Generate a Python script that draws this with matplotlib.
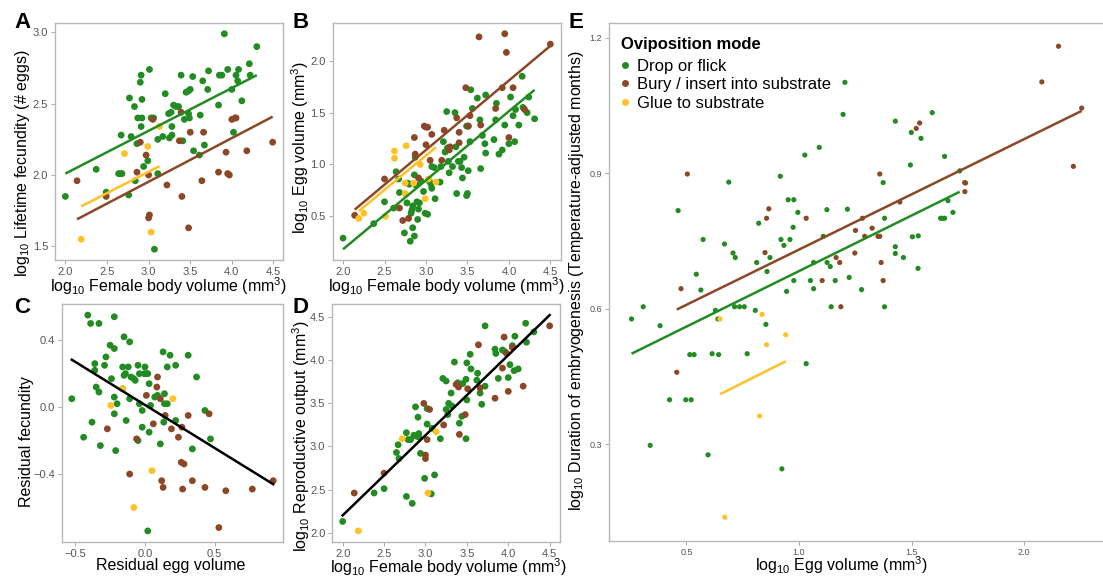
import numpy as np
import matplotlib
matplotlib.use("Agg")
import matplotlib.pyplot as plt
from matplotlib.lines import Line2D

plt.rcParams["font.family"] = ["Liberation Sans", "DejaVu Sans"]
plt.rcParams["mathtext.fontset"] = "custom"
plt.rcParams["mathtext.rm"] = "Liberation Sans"

modes = ["Drop or flick", "Bury / insert into substrate", "Glue to substrate"]
colors = ["#228B22", "#8B4726", "#FFC125"]

# --- A: body volume vs lifetime fecundity ---
A_drop_x = [2.0, 2.37, 2.49, 2.64, 2.66, 2.68, 2.67, 2.76, 2.77, 2.79, 2.83, 2.84, 2.86, 2.87,
            2.90, 2.91, 2.91, 2.92, 2.92, 2.94, 2.99, 3.01, 3.03, 3.06, 3.07, 3.11, 3.11, 3.17,
            3.20, 3.24, 3.25, 3.27, 3.28, 3.28, 3.30, 3.33, 3.36, 3.39, 3.41, 3.43, 3.45, 3.48,
            3.48, 3.50, 3.49, 3.53, 3.54, 3.61, 3.62, 3.65, 3.67, 3.71, 3.72, 3.84, 3.85, 3.88,
            3.91, 3.95, 4.00, 4.02, 4.05, 4.07, 4.08, 4.12, 4.21, 4.22, 4.30]
A_drop_y = [1.85, 2.04, 1.88, 2.01, 2.01, 2.01, 2.28, 1.86, 2.54, 2.27, 2.48, 1.96, 2.22, 2.40,
            2.65, 2.70, 2.34, 2.53, 2.40, 2.06, 2.10, 2.74, 2.40, 2.40, 1.48, 2.01, 2.25, 2.27,
            2.57, 2.43, 2.26, 2.44, 2.28, 2.34, 2.49, 2.48, 2.48, 2.70, 2.24, 2.39, 2.58, 2.43,
            2.59, 2.60, 2.40, 2.69, 2.17, 2.14, 2.42, 2.66, 2.21, 2.60, 2.73, 2.49, 2.70, 2.70,
            2.99, 2.74, 2.60, 2.30, 2.70, 2.66, 2.74, 2.52, 2.78, 2.70, 2.90]
A_bury_x = [2.14, 2.49, 2.86, 2.90, 2.97, 3.00, 3.00, 3.01, 3.05, 3.22, 3.37, 3.39, 3.40, 3.48,
            3.50, 3.64, 3.66, 3.84, 3.93, 3.95, 3.97, 4.00, 4.04, 4.05, 4.18, 4.49]
A_bury_y = [1.96, 1.85, 2.02, 2.23, 2.14, 2.00, 1.70, 1.72, 2.39, 1.93, 2.24, 2.44, 1.85, 1.63,
            2.30, 1.96, 2.30, 2.02, 2.16, 2.01, 2.00, 2.39, 2.40, 2.40, 2.17, 2.23]
A_glue_x = [2.19, 2.71, 2.99, 3.03, 3.13]
A_glue_y = [1.55, 2.15, 2.20, 1.60, 2.34]
A_fit_intercept = [1.41, 1.035, 1.123]
A_fit_slope = [0.300, 0.306, 0.300]

# --- B: body volume vs egg volume ---
B_drop_x = [2.0, 2.37, 2.50, 2.61, 2.64, 2.68, 2.67, 2.74, 2.77, 2.78, 2.80, 2.81, 2.82, 2.83,
            2.84, 2.84, 2.86, 2.86, 2.87, 2.88, 2.89, 2.91, 2.90, 2.92, 2.94, 2.97, 2.99, 3.02,
            3.04, 3.06, 3.07, 3.10, 3.07, 3.11, 3.17, 3.18, 3.21, 3.23, 3.25, 3.26, 3.27, 3.28,
            3.32, 3.35, 3.36, 3.37, 3.39, 3.41, 3.43, 3.44, 3.46, 3.49, 3.51, 3.49, 3.50, 3.51,
            3.53, 3.54, 3.56, 3.62, 3.65, 3.66, 3.68, 3.71, 3.72, 3.72, 3.82, 3.84, 3.85, 3.88,
            3.92, 3.95, 4.00, 4.02, 4.05, 4.07, 4.08, 4.12, 4.16, 4.17, 4.22, 4.24, 4.31]
B_drop_y = [0.29, 0.43, 0.64, 0.58, 0.93, 0.73, 0.86, 0.34, 0.63, 0.82, 0.81, 0.26, 0.53, 0.56,
            0.60, 0.39, 0.31, 0.90, 1.07, 0.80, 0.64, 0.57, 0.47, 0.63, 0.84, 0.74, 0.53, 0.52,
            0.84, 0.81, 0.98, 0.97, 0.77, 0.67, 0.83, 0.98, 1.22, 1.12, 1.51, 1.16, 1.03, 0.92,
            0.98, 1.50, 1.17, 0.72, 1.03, 1.03, 0.97, 0.87, 1.07, 1.37, 1.37, 0.70, 0.72, 0.94,
            1.22, 1.72, 1.54, 1.64, 1.43, 0.96, 1.28, 1.20, 1.11, 1.67, 1.24, 1.43, 1.59, 1.10,
            1.14, 1.38, 1.20, 1.65, 1.47, 1.22, 1.53, 1.38, 1.85, 1.55, 1.50, 1.65, 1.44]
B_bury_x = [2.14, 2.50, 2.68, 2.72, 2.79, 2.86, 2.87, 2.91, 2.98, 3.00, 3.02, 3.00, 3.05, 3.07,
            3.19, 3.22, 3.29, 3.28, 3.37, 3.40, 3.40, 3.48, 3.51, 3.53, 3.64, 3.66, 3.84, 3.92,
            3.95, 3.97, 4.00, 4.05, 4.19, 4.50]
B_bury_y = [0.51, 0.86, 0.58, 0.46, 0.48, 1.26, 1.10, 0.87, 1.37, 1.36, 1.36, 1.19, 1.04, 1.29,
            1.04, 1.33, 1.17, 1.14, 1.45, 1.21, 1.31, 1.74, 1.37, 1.47, 2.23, 1.38, 1.54, 1.74,
            2.26, 2.08, 1.26, 1.74, 1.53, 2.16]
B_glue_x = [2.19, 2.25, 2.51, 2.62, 2.62, 2.76, 2.75, 2.75, 2.93, 2.85, 2.99, 3.03, 3.12]
B_glue_y = [0.48, 0.53, 0.50, 1.13, 1.06, 1.18, 0.72, 0.82, 1.00, 0.82, 0.67, 0.86, 0.83]
B_fit_intercept = [-1.147, -0.867, -0.902]
B_fit_slope = [0.665, 0.669, 0.663]

# --- C: residual egg volume vs residual fecundity ---
C_drop_x = [-0.525, -0.44, -0.41, -0.39, -0.33, -0.38, -0.36, -0.36, -0.35, -0.33, -0.32, -0.29,
            -0.28, -0.25, -0.24, -0.22, -0.22, -0.22, -0.22, -0.21, -0.20, -0.16, -0.16, -0.15,
            -0.15, -0.14, -0.135, -0.12, -0.11, -0.11, -0.10, -0.08, -0.07, -0.05, -0.05, -0.04,
            -0.04, -0.02, -0.02, -0.005, 0.01, 0.0, 0.02, 0.03, 0.03, 0.02, 0.04, 0.07, 0.09,
            0.11, 0.13, 0.14, 0.135, 0.14, 0.16, 0.16, 0.18, 0.22, 0.22, 0.31, 0.34, 0.37, 0.43,
            0.47]
C_drop_y = [0.05, -0.18, 0.55, 0.50, 0.50, -0.09, 0.26, 0.22, 0.12, 0.09, -0.23, 0.25, 0.30,
            0.37, 0.17, 0.54, 0.35, 0.06, -0.04, -0.26, 0.02, 0.24, 0.11, 0.42, 0.19, 0.20,
            -0.08, 0.24, 0.39, 0.05, 0.18, 0.17, 0.16, 0.25, -0.20, 0.20, 0.02, -0.02, -0.12,
            0.20, 0.20, 0.24, 0.20, 0.14, -0.15, -0.74, 0.01, 0.06, 0.07, -0.22, 0.33, 0.08,
            -0.09, 0.02, 0.24, 0.02, 0.31, 0.25, -0.08, 0.31, -0.25, 0.18, -0.02, -0.19]
C_bury_x = [-0.27, -0.11, -0.06, 0.01, 0.06, 0.085, 0.09, 0.11, 0.12, 0.13, 0.145, 0.19, 0.24,
            0.265, 0.26, 0.28, 0.27, 0.31, 0.34, 0.43, 0.46, 0.53, 0.58, 0.77, 0.92]
C_bury_y = [-0.13, -0.40, -0.19, 0.07, -0.10, 0.12, 0.18, 0.05, -0.44, -0.48, -0.05, -0.13,
            -0.18, -0.12, -0.33, -0.34, -0.49, -0.05, -0.44, -0.48, -0.04, -0.72, -0.50, -0.49,
            -0.44]
C_glue_x = [-0.245, -0.16, -0.08, 0.05, 0.20]
C_glue_y = [0.01, 0.11, -0.60, -0.38, 0.05]
C_fit = [0.013, -0.515]

# --- D: body volume vs reproductive output ---
D_drop_x = [2.0, 2.38, 2.50, 2.65, 2.67, 2.68, 2.77, 2.77, 2.79, 2.82, 2.84, 2.86, 2.88, 2.89,
            2.92, 2.92, 2.91, 2.94, 2.99, 3.02, 3.02, 3.07, 3.08, 3.11, 3.18, 3.21, 3.25, 3.25,
            3.27, 3.28, 3.31, 3.32, 3.35, 3.39, 3.41, 3.44, 3.45, 3.49, 3.49, 3.50, 3.50, 3.54,
            3.55, 3.62, 3.63, 3.66, 3.68, 3.72, 3.72, 3.84, 3.85, 3.88, 3.93, 3.96, 4.02, 4.00,
            4.05, 4.07, 4.08, 4.12, 4.21, 4.22, 4.31]
D_drop_y = [2.13, 2.46, 2.51, 2.93, 3.02, 2.86, 3.16, 2.42, 3.08, 3.08, 2.34, 3.13, 3.46, 3.12,
            3.11, 3.15, 3.34, 2.92, 2.63, 3.26, 3.44, 2.45, 3.21, 2.67, 3.09, 3.79, 3.76, 3.43,
            3.37, 3.50, 3.62, 3.47, 3.98, 3.74, 3.27, 3.35, 3.73, 3.78, 3.09, 3.97, 3.54, 4.07,
            3.90, 3.77, 3.85, 3.62, 3.49, 3.70, 4.40, 4.13, 4.08, 3.79, 4.12, 4.10, 3.95, 3.80,
            4.17, 3.88, 4.28, 3.90, 4.43, 4.21, 4.33]
D_bury_x = [2.14, 2.50, 2.98, 3.00, 3.00, 3.02, 3.05, 3.22, 3.37, 3.40, 3.41, 3.48, 3.51, 3.64,
            3.66, 3.84, 3.93, 3.95, 3.98, 4.00, 4.05, 4.18, 4.50]
D_bury_y = [2.46, 2.69, 3.50, 2.90, 2.86, 3.08, 3.43, 3.25, 3.72, 3.69, 3.14, 3.37, 3.67, 4.18,
            3.68, 3.56, 3.91, 4.27, 4.08, 3.64, 4.15, 3.70, 4.40]
D_glue_x = [2.19, 2.72, 3.03, 3.13]
D_glue_y = [2.02, 3.09, 2.46, 3.17]
D_fit = [0.34, 0.93]

# --- E: egg volume vs duration of embryogenesis ---
E_drop_x = [0.463, 0.688, 0.574, 0.544, 0.564, 0.669, 0.707, 0.717, 0.812, 0.821, 0.858, 0.871,
            0.917, 0.920, 0.933, 0.945, 0.952, 0.960, 0.974, 0.977, 0.977, 0.995, 1.026, 1.051,
            1.065, 1.065, 1.090, 1.108, 1.124, 1.125, 1.139, 1.161, 1.196, 1.204, 1.215, 1.223,
            1.278, 1.374, 1.380, 1.428, 1.428, 1.428, 1.464, 1.495, 1.499, 1.504, 1.530, 1.529,
            1.542, 1.592, 1.629, 1.637, 1.647, 1.647, 1.662, 1.684, 1.714,
            0.256, 0.308, 0.339, 0.383, 0.425, 0.497, 0.521, 0.515, 0.534, 0.596, 0.614, 0.629,
            0.640, 0.643, 0.714, 0.736, 0.757, 0.770, 0.806, 0.853, 0.924, 1.032, 1.143, 1.380]
E_drop_y = [0.817, 0.880, 0.753, 0.676, 0.641, 0.743, 0.723, 0.713, 0.702, 0.789, 0.682, 0.713,
            0.893, 0.753, 0.740, 0.638, 0.841, 0.753, 0.780, 0.841, 0.662, 0.813, 0.940, 0.662,
            0.644, 0.702, 0.957, 0.760, 0.819, 0.702, 0.693, 0.662, 1.030, 1.101, 0.820, 0.669,
            0.642, 0.879, 0.800, 1.015, 0.737, 0.722, 0.713, 0.918, 0.990, 0.759, 0.761, 0.689,
            0.977, 1.034, 0.800, 0.800, 0.800, 0.937, 0.839, 0.813, 0.905,
            0.577, 0.604, 0.297, 0.562, 0.398, 0.398, 0.398, 0.498, 0.498, 0.276, 0.500, 0.596,
            0.577, 0.498, 0.604, 0.604, 0.604, 0.500, 0.596, 0.565, 0.245, 0.478, 0.604, 0.604]
E_bury_x = [0.476, 0.504, 0.849, 0.856, 0.866, 1.032, 1.103, 1.165, 1.181, 1.248, 1.251, 1.282,
            1.292, 1.325, 1.351, 1.359, 1.359, 1.365, 1.374, 1.448, 1.521, 1.536, 1.736, 1.740,
            1.737, 2.079, 2.153, 2.219, 2.256, 0.457, 1.186]
E_bury_y = [0.644, 0.898, 0.724, 0.800, 0.821, 0.800, 0.662, 0.713, 0.702, 0.723, 0.773, 0.800,
            0.760, 0.778, 0.760, 0.760, 0.898, 0.702, 0.662, 0.836, 0.999, 1.011, 0.879, 0.878,
            0.859, 1.102, 1.181, 0.915, 1.044, 0.459, 0.604]
E_glue_x = [0.649, 0.836, 0.941, 0.856, 0.825, 0.670]
E_glue_y = [0.577, 0.587, 0.542, 0.520, 0.362, 0.138]
E_fit_intercept = [0.437, 0.486, 0.248]
E_fit_slope = [0.246, 0.2446, 0.25]

W, H = 1103, 576
fig = plt.figure(figsize=(W / 100, H / 100), dpi=100)

LOG = r"$\mathregular{log_{10}}$"
MM3 = r"(mm$\mathregular{^3}$)"
body_label = LOG + " Female body volume " + MM3
LABEL_SIZE = 11.5


def px_axes(left, top, right, bottom):
    return fig.add_axes([left / W, 1 - bottom / H, (right - left) / W, (bottom - top) / H])


def style(ax, tick_size=8):
    for sp in ax.spines.values():
        sp.set_color("#b8b8b8")
        sp.set_linewidth(1.0)
    ax.tick_params(direction="out", length=3, width=0.6, color="#9a9a9a",
                   labelcolor="#555555", labelsize=tick_size, pad=2)
    ax.margins(0.05)


def labels(ax, xlabel, ylabel, xpos, ypos):
    # positions in axes fraction: x label top edge, y label right edge
    ax.set_xlabel(xlabel, fontsize=LABEL_SIZE)
    ax.set_ylabel(ylabel, fontsize=LABEL_SIZE)
    ax.xaxis.set_label_coords(*xpos)
    ax.yaxis.set_label_coords(*ypos)


def draw_groups(ax, xs, ys, size):
    for x, y, c in zip(xs, ys, colors):
        ax.scatter(x, y, s=size, color=c, edgecolors="none", zorder=2)


def draw_fits(ax, xs, intercepts, slopes):
    for x, b0, b1, c in zip(xs, intercepts, slopes, colors):
        xx = np.array([min(x), max(x)])
        ax.plot(xx, b0 + b1 * xx, color=c, lw=1.8, solid_capstyle="butt", zorder=3)


def letter(s, x, y):
    fig.text(x / W, 1 - y / H, s, fontsize=16, fontweight="bold", ha="left", va="top")


# A
axA = px_axes(55, 23, 283, 260)
draw_groups(axA, [A_drop_x, A_bury_x, A_glue_x], [A_drop_y, A_bury_y, A_glue_y], 24)
draw_fits(axA, [A_drop_x, A_bury_x, A_glue_x], A_fit_intercept, A_fit_slope)
style(axA)
axA.set_xticks([2.0, 2.5, 3.0, 3.5, 4.0, 4.5])
axA.set_yticks([1.5, 2.0, 2.5, 3.0])
labels(axA, body_label, LOG + " Lifetime fecundity (# eggs)", (0.5, -0.066), (-0.10, 0.41))
letter("A", 14, 12)

# B
axB = px_axes(332.7, 23, 560.7, 260)
draw_groups(axB, [B_drop_x, B_bury_x, B_glue_x], [B_drop_y, B_bury_y, B_glue_y], 24)
draw_fits(axB, [B_drop_x, B_bury_x, B_glue_x], B_fit_intercept, B_fit_slope)
style(axB)
axB.set_xticks([2.0, 2.5, 3.0, 3.5, 4.0, 4.5])
axB.set_yticks([0.5, 1.0, 1.5, 2.0])
labels(axB, body_label, LOG + " Egg volume " + MM3, (0.5, -0.066), (-0.095, 0.475))
letter("B", 293, 12)

# C
axC = px_axes(61.7, 304.3, 283.3, 541.7)
draw_groups(axC, [C_drop_x, C_bury_x, C_glue_x], [C_drop_y, C_bury_y, C_glue_y], 24)
c_all = C_drop_x + C_bury_x + C_glue_x
cx = np.array([min(c_all), max(c_all)])
axC.plot(cx, C_fit[0] + C_fit[1] * cx, color="black", lw=1.8, zorder=3)
style(axC)
axC.set_xticks([-0.5, 0.0, 0.5])
axC.set_yticks([-0.4, 0.0, 0.4])
labels(axC, "Residual egg volume", "Residual fecundity", (0.49, -0.068), (-0.127, 0.422))
letter("C", 14, 297)

# D
axD = px_axes(332.3, 304.3, 560, 541.7)
draw_groups(axD, [D_drop_x, D_bury_x, D_glue_x], [D_drop_y, D_bury_y, D_glue_y], 24)
d_all = D_drop_x + D_bury_x + D_glue_x
dx = np.array([min(d_all), max(d_all)])
axD.plot(dx, D_fit[0] + D_fit[1] * dx, color="black", lw=1.8, zorder=3)
style(axD)
axD.set_xticks([2.0, 2.5, 3.0, 3.5, 4.0, 4.5])
axD.set_yticks([2.0, 2.5, 3.0, 3.5, 4.0, 4.5])
labels(axD, body_label, LOG + " Reproductive output " + MM3, (0.51, -0.060), (-0.087, 0.445))
letter("D", 293, 297)

# E
axE = px_axes(609, 22.7, 1104.2, 540.7)
draw_groups(axE, [E_drop_x, E_bury_x, E_glue_x], [E_drop_y, E_bury_y, E_glue_y], 14)
draw_fits(axE, [E_drop_x, E_bury_x, E_glue_x], E_fit_intercept, E_fit_slope)
style(axE, tick_size=6.5)
axE.set_xticks([0.5, 1.0, 1.5, 2.0])
axE.set_yticks([0.3, 0.6, 0.9, 1.2])
labels(axE, LOG + " Egg volume " + MM3,
       LOG + " Duration of embryogenesis (Temperature-adjusted months)",
       (0.47, -0.0265), (-0.046, 0.502))
letter("E", 569, 12)

# legend: bold title plus one row per oviposition mode
fig.text(620.7 / W, 1 - 44.5 / H, "Oviposition mode", fontsize=12, fontweight="bold",
         ha="left", va="center")
handles = [Line2D([], [], ls="none", marker="o", ms=5, mfc=c, mec="none") for c in colors]
fig.legend(handles, modes, loc="upper left", bbox_to_anchor=(620.3 / W, 1 - 59 / H),
           frameon=False, fontsize=12, handlelength=0.6, handletextpad=0.4,
           labelspacing=0.2, borderaxespad=0, borderpad=0)

fig.savefig("out.png", dpi=100)
